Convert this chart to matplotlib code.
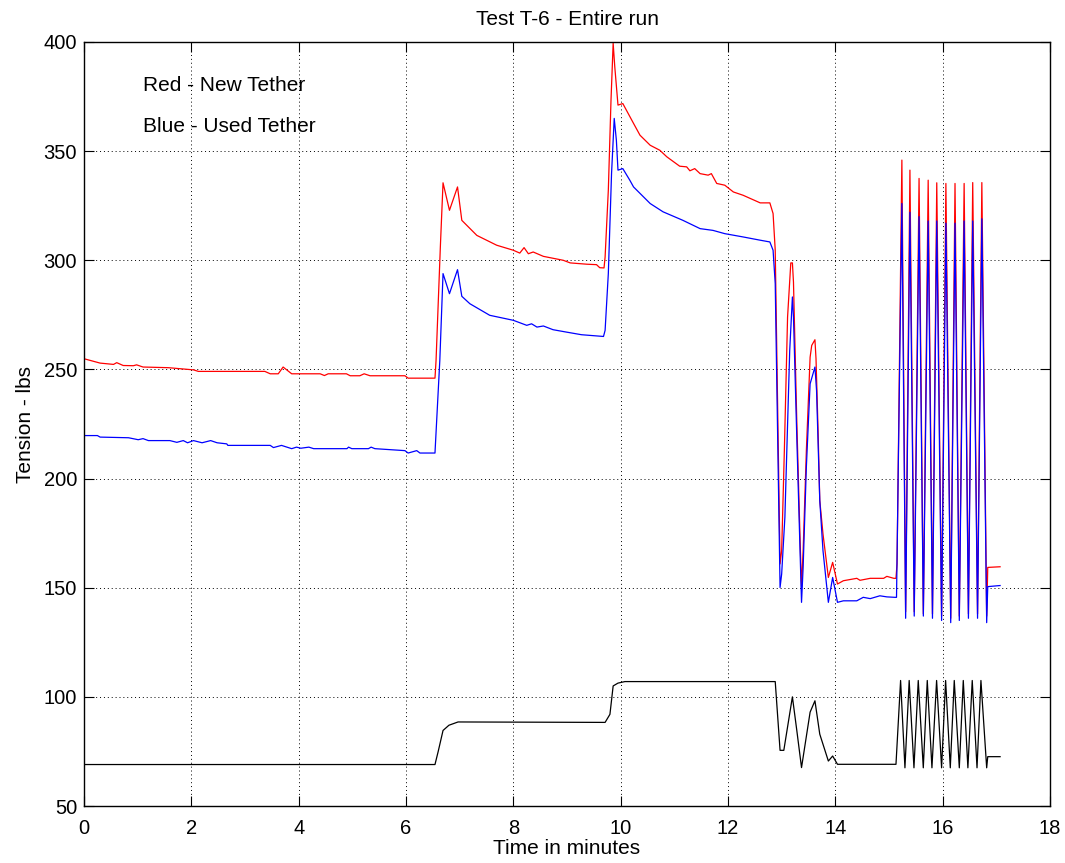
import matplotlib
matplotlib.use("Agg")
import matplotlib.pyplot as plt

# ---- data ----
red_t = [0.0, 0.3, 0.55, 0.61, 0.73, 0.92, 0.98, 1.1, 1.57, 2.04, 2.13, 3.37, 3.47, 3.62, 3.71, 3.87,
         4.4, 4.48, 4.55, 4.89, 4.96, 5.14, 5.22, 5.33, 5.98, 6.04, 6.54,
         6.56, 6.64, 6.69, 6.81, 6.96, 7.04, 7.32, 7.69, 8.0, 8.12, 8.2, 8.28, 8.37, 8.56, 8.93, 9.06,
         9.37, 9.55, 9.61, 9.69, 9.71, 9.77, 9.82, 9.86, 9.89, 9.95, 10.04, 10.24, 10.36, 10.55, 10.73,
         10.86, 11.1, 11.23, 11.29, 11.38, 11.48, 11.63, 11.69, 11.79, 11.94, 12.1, 12.28, 12.6, 12.78,
         12.84, 12.88, 12.97, 13.0, 13.05, 13.11, 13.17, 13.2, 13.22, 13.28, 13.34, 13.37, 13.4, 13.46,
         13.53, 13.56, 13.62, 13.64, 13.68, 13.71, 13.77, 13.87, 13.95, 14.04, 14.15, 14.4, 14.46,
         14.65, 14.9, 14.96, 15.09, 15.13,
         15.15, 15.24, 15.31, 15.39, 15.47, 15.56, 15.64, 15.73, 15.81, 15.89, 15.98, 16.06, 16.15,
         16.23, 16.31, 16.40, 16.48, 16.56, 16.65, 16.73, 16.82, 16.84, 17.07]
red_v = [254.9, 252.9, 252.3, 253.1, 251.8, 251.7, 252.1, 251.1, 250.8, 249.8, 249.1, 249.1, 248.0, 248.0, 251.1, 248.0,
         248.0, 247.2, 248.0, 248.0, 247.1, 247.1, 248.0, 247.1, 247.1, 246.0, 246.0,
         254.1, 306.1, 335.5, 322.9, 333.6, 318.3, 311.4, 306.9, 304.6, 303.3, 305.8, 303.0, 303.8, 301.8, 300.0, 298.8,
         298.2, 298.0, 296.6, 296.5, 301.5, 332.1, 373.4, 399.4, 388.7, 371.1, 371.8, 362.7, 357.3, 352.7, 350.4,
         347.4, 343.1, 342.8, 341.0, 342.0, 339.7, 339.0, 339.7, 335.2, 334.4, 331.3, 329.8, 326.3, 326.3,
         321.4, 304.6, 160.9, 167.0, 212.8, 274.0, 298.8, 298.8, 290.0, 228.0, 174.6, 150.1, 167.0, 212.8,
         255.6, 261.0, 263.6, 254.9, 220.5, 190.0, 174.6, 154.7, 161.6, 151.7, 153.2, 154.3, 153.4,
         154.3, 154.3, 155.2, 154.3, 154.3,
         161.0, 345.9, 139.0, 341.3, 139.0, 337.5, 138.0, 336.7, 138.0, 335.5, 137.0, 335.2, 136.0,
         335.2, 137.0, 335.2, 138.0, 335.6, 138.0, 335.6, 137.0, 159.3, 159.6]

blue_t = [0.0, 0.25, 0.3, 0.83, 1.01, 1.1, 1.2, 1.6, 1.73, 1.85, 1.93, 2.04, 2.2, 2.36, 2.48, 2.66, 2.68,
          3.47, 3.53, 3.68, 3.87, 3.96, 4.04, 4.19, 4.28, 4.9, 4.93, 4.99, 5.3, 5.35, 5.42, 5.98, 6.04,
          6.2, 6.26, 6.54,
          6.63, 6.69, 6.81, 6.96, 7.04, 7.19, 7.56, 8.0, 8.25, 8.34, 8.44, 8.56, 8.74, 8.99, 9.27, 9.68,
          9.71, 9.77, 9.83, 9.88, 9.92, 9.95, 10.04, 10.17, 10.24, 10.55, 10.79, 11.16, 11.48, 11.72,
          11.94, 12.28, 12.6, 12.78, 12.84, 12.88, 12.97, 13.0, 13.06, 13.15, 13.2, 13.22, 13.28, 13.37,
          13.4, 13.46, 13.53, 13.62, 13.65, 13.71, 13.77, 13.87, 13.95, 14.04, 14.15, 14.4, 14.52,
          14.65, 14.83, 14.96, 15.11, 15.14,
          15.24, 15.31, 15.39, 15.47, 15.56, 15.64, 15.73, 15.81, 15.89, 15.98, 16.06, 16.15,
          16.23, 16.31, 16.40, 16.48, 16.56, 16.65, 16.73, 16.82, 16.84, 17.07]
blue_v = [219.7, 219.7, 219.0, 218.7, 217.8, 218.3, 217.4, 217.4, 216.6, 217.4, 216.4, 217.4, 216.4, 217.4, 216.4, 215.9, 215.2,
          215.2, 214.2, 215.2, 213.7, 214.4, 213.9, 214.4, 213.7, 213.7, 214.4, 213.7, 213.7, 214.4, 213.7, 212.8, 211.7,
          212.8, 211.7, 211.7,
          254.1, 293.9, 284.7, 295.7, 283.5, 280.1, 274.8, 272.5, 270.2, 270.9, 269.4, 269.9, 268.2, 267.1, 265.9, 265.1,
          267.9, 293.9, 339.7, 365.0, 355.0, 341.3, 342.0, 336.7, 333.6, 326.0, 322.2, 318.3, 314.5, 313.7,
          312.2, 310.7, 309.2, 308.4, 304.6, 289.3, 150.1, 156.3, 182.3, 258.7, 283.2, 274.0, 220.5, 143.3,
          159.3, 205.2, 243.4, 251.1, 240.4, 190.0, 167.0, 143.3, 154.7, 143.3, 144.0, 144.0, 145.6,
          145.0, 146.3, 145.8, 145.6, 145.6,
          326.0, 136.0, 322.0, 137.0, 320.0, 137.0, 318.0, 136.0, 318.0, 135.0, 317.0, 134.0,
          317.0, 135.0, 318.0, 136.0, 318.0, 136.0, 319.0, 134.0, 150.5, 151.0]

black_t = [0.0, 6.54, 6.6, 6.69, 6.8, 6.97, 9.71, 9.80, 9.86, 9.95, 10.08, 12.88, 12.97, 13.04, 13.2,
           13.28, 13.37, 13.53, 13.62, 13.71, 13.87, 13.95, 14.04, 15.13,
           15.216, 15.297, 15.376, 15.465, 15.545, 15.639, 15.713, 15.80, 15.887, 15.98, 16.055, 16.142,
           16.216, 16.31, 16.384, 16.47, 16.551, 16.64, 16.713, 16.82, 16.84, 17.07]
black_v = [69.0, 69.0, 75.0, 84.6, 87.0, 88.5, 88.3, 92.0, 105.0, 106.3, 107.0, 107.0, 75.5, 75.5, 100.0,
           85.0, 67.6, 93.0, 98.2, 82.9, 70.6, 72.9, 69.1, 69.1,
           107.5, 67.5, 107.5, 67.5, 107.5, 67.5, 107.5, 67.5, 107.5, 67.5, 107.5, 67.5,
           107.5, 67.5, 107.5, 67.5, 107.5, 67.5, 107.5, 67.5, 72.6, 72.6]

x_ticks = [0, 2, 4, 6, 8, 10, 12, 14, 16, 18]
y_ticks = [50, 100, 150, 200, 250, 300, 350, 400]
annotations = ["Red - New Tether", "Blue - Used Tether"]

# ---- plot ----
plt.rcParams['font.family'] = ['Liberation Sans', 'DejaVu Sans']
fig = plt.figure(figsize=(10.65, 8.63), dpi=100)
ax = fig.add_axes([84 / 1065, 1 - 806 / 863, (1050 - 84) / 1065, (806 - 42) / 863])

ax.plot(black_t, black_v, color='black', lw=0.9)
ax.plot(red_t, red_v, color='#ff0000', lw=0.9)
ax.plot(blue_t, blue_v, color='#0000ff', lw=0.9)

ax.set_xlim(0, 18)
ax.set_ylim(50, 400)
ax.set_xticks(x_ticks)
ax.set_yticks(y_ticks)
ax.tick_params(direction='in', top=True, right=True, length=7, width=0.8,
               labelsize=14.5, pad=5)
ax.tick_params(axis='x', pad=9)
ax.grid(True, linestyle=(0, (1, 3)), color='black', lw=0.7)
for s in ax.spines.values():
    s.set_linewidth(1.0)
    s.set_color('black')

ax.set_title("Test T-6 - Entire run", fontsize=15, pad=12)
ax.set_xlabel("Time in minutes", fontsize=15, labelpad=1)
ax.set_ylabel("Tension - lbs", fontsize=15, labelpad=6)

ax.text(1.1, 380, annotations[0], fontsize=15, va='center', ha='left')
ax.text(1.1, 361.5, annotations[1], fontsize=15, va='center', ha='left')

fig.savefig("out.png", dpi=100)
